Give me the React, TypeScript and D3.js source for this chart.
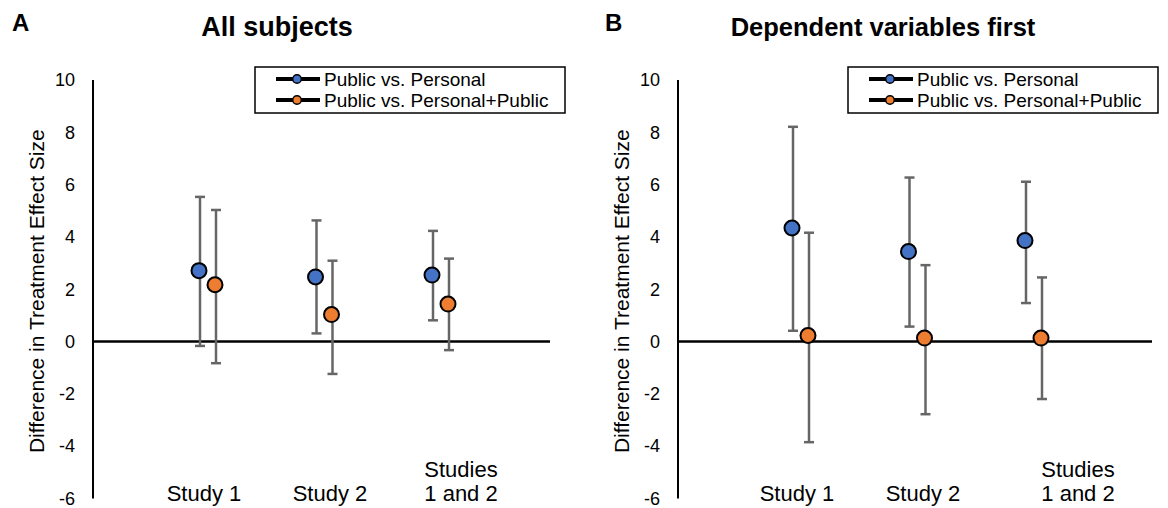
import React from 'react'
import * as d3 from 'd3'

// categories and tick labels
const categories = ['Study 1', 'Study 2', 'Studies 1 and 2']
const categoryLines = [['Study 1'], ['Study 2'], ['Studies', '1 and 2']]
const yTicks = [-6, -4, -2, 0, 2, 4, 6, 8, 10]
const seriesNames = ['Public vs. Personal', 'Public vs. Personal+Public']
const seriesColors = ['#4472C4', '#ED7D31']

// panel A: all subjects
const allPersonal = [2.71, 2.47, 2.54]
const allPersonalLow = [-0.17, 0.31, 0.81]
const allPersonalHigh = [5.53, 4.63, 4.23]
const allMixed = [2.17, 1.03, 1.43]
const allMixedLow = [-0.83, -1.24, -0.33]
const allMixedHigh = [5.03, 3.09, 3.17]

// panel B: dependent variables first
const dvPersonal = [4.34, 3.44, 3.86]
const dvPersonalLow = [0.41, 0.57, 1.47]
const dvPersonalHigh = [8.21, 6.27, 6.11]
const dvMixed = [0.23, 0.13, 0.13]
const dvMixedLow = [-3.85, -2.78, -2.2]
const dvMixedHigh = [4.16, 2.92, 2.45]

const W = 1168
const H = 508
const FONT = '"Liberation Sans", Arial, sans-serif'

type Series = { mean: number[]; low: number[]; high: number[] }

const y = d3.scaleLinear().domain([-6, 10]).range([498.4, 80])

function Panel(props: {
  x0: number
  shift: number
  zeroEnd: number
  letter: string
  letterX: number
  title: string
  titleX: number
  titleSize: number
  labelX: number[]
  series: Series[]
}) {
  const { x0, shift, zeroEnd, letter, letterX, title, titleX, titleSize, labelX, series } = props
  const x = d3.scalePoint<string>()
    .domain(categories)
    .range([x0 + 114 + shift, x0 + 347 + shift])
  const dodge = [-8, 8]
  const lx = x0 + 162 + shift

  return (
    <g>
      <text x={letterX} y={31} fontFamily={FONT} fontWeight="bold" fontSize={24}>{letter}</text>
      <text x={titleX} y={36} fontFamily={FONT} fontWeight="bold" fontSize={titleSize} textAnchor="middle">{title}</text>

      {/* y axis */}
      <line x1={x0} x2={x0} y1={y(10)} y2={y(-6)} stroke="#000" strokeWidth={2} />
      {yTicks.map(t => (
        <text key={t} x={x0 - 18} y={y(t)} dy="0.35em" textAnchor="end" fontFamily={FONT} fontSize={18}>{t}</text>
      ))}
      <text transform={`translate(${x0 - 56},${(y(10) + y(-6)) / 2 + 2}) rotate(-90)`} textAnchor="middle"
        fontFamily={FONT} fontSize={21} dy="0.35em">Difference in Treatment Effect Size</text>
      <line x1={x0} x2={zeroEnd} y1={y(0)} y2={y(0)} stroke="#000" strokeWidth={2.5} />

      {/* category labels */}
      {categoryLines.map((lines, i) => (
        <text key={i} x={labelX[i]} y={501 - (lines.length - 1) * 24} textAnchor="middle" fontFamily={FONT} fontSize={22}>
          {lines.map((l, j) => (
            <tspan key={j} x={labelX[i]} dy={j === 0 ? 0 : 24}>{l}</tspan>
          ))}
        </text>
      ))}

      {/* error bars and points */}
      {series.map((s, si) => (
        <g key={si}>
          {categories.map((c, i) => {
            const cx = (x(c) as number) + dodge[si]
            const wx = cx + 1
            return (
              <g key={c}>
                <line x1={wx} x2={wx} y1={y(s.low[i])} y2={y(s.high[i])} stroke="#666" strokeWidth={2.5} />
                <line x1={wx - 5} x2={wx + 5} y1={y(s.low[i])} y2={y(s.low[i])} stroke="#666" strokeWidth={2.5} />
                <line x1={wx - 5} x2={wx + 5} y1={y(s.high[i])} y2={y(s.high[i])} stroke="#666" strokeWidth={2.5} />
              </g>
            )
          })}
          {categories.map((c, i) => (
            <circle key={c} cx={(x(c) as number) + dodge[si]} cy={y(s.mean[i])} r={7.5}
              fill={seriesColors[si]} stroke="#000" strokeWidth={2} />
          ))}
        </g>
      ))}

      {/* legend */}
      <rect x={lx} y={67} width={310} height={46} fill="#fff" stroke="#000" strokeWidth={1.5} />
      {seriesNames.map((n, i) => (
        <g key={n} transform={`translate(0,${79 + i * 21})`}>
          <line x1={lx + 21} x2={lx + 65} y1={0} y2={0} stroke="#000" strokeWidth={4} />
          <circle cx={lx + 42} cy={0} r={4.3} fill={seriesColors[i]} stroke="#000" strokeWidth={1.5} />
          <text x={lx + 69} y={0} dy="0.35em" fontFamily={FONT} fontSize={19}>{n}</text>
        </g>
      ))}
    </g>
  )
}

export default function App() {
  const seriesA: Series[] = [
    { mean: allPersonal, low: allPersonalLow, high: allPersonalHigh },
    { mean: allMixed, low: allMixedLow, high: allMixedHigh },
  ]
  const seriesB: Series[] = [
    { mean: dvPersonal, low: dvPersonalLow, high: dvPersonalHigh },
    { mean: dvMixed, low: dvMixedLow, high: dvMixedHigh },
  ]
  return (
    <svg width={W} height={H} style={{ position: 'absolute', left: 0, top: 0, background: '#fff' }}>
      <Panel x0={93} shift={0} zeroEnd={550} letter="A" letterX={12} title="All subjects" titleX={277} titleSize={27}
        labelX={[204, 330, 461]} series={seriesA} />
      <Panel x0={678} shift={8} zeroEnd={1152} letter="B" letterX={605} title="Dependent variables first" titleX={883}
        titleSize={25.5} labelX={[797, 923, 1078]} series={seriesB} />
    </svg>
  )
}
